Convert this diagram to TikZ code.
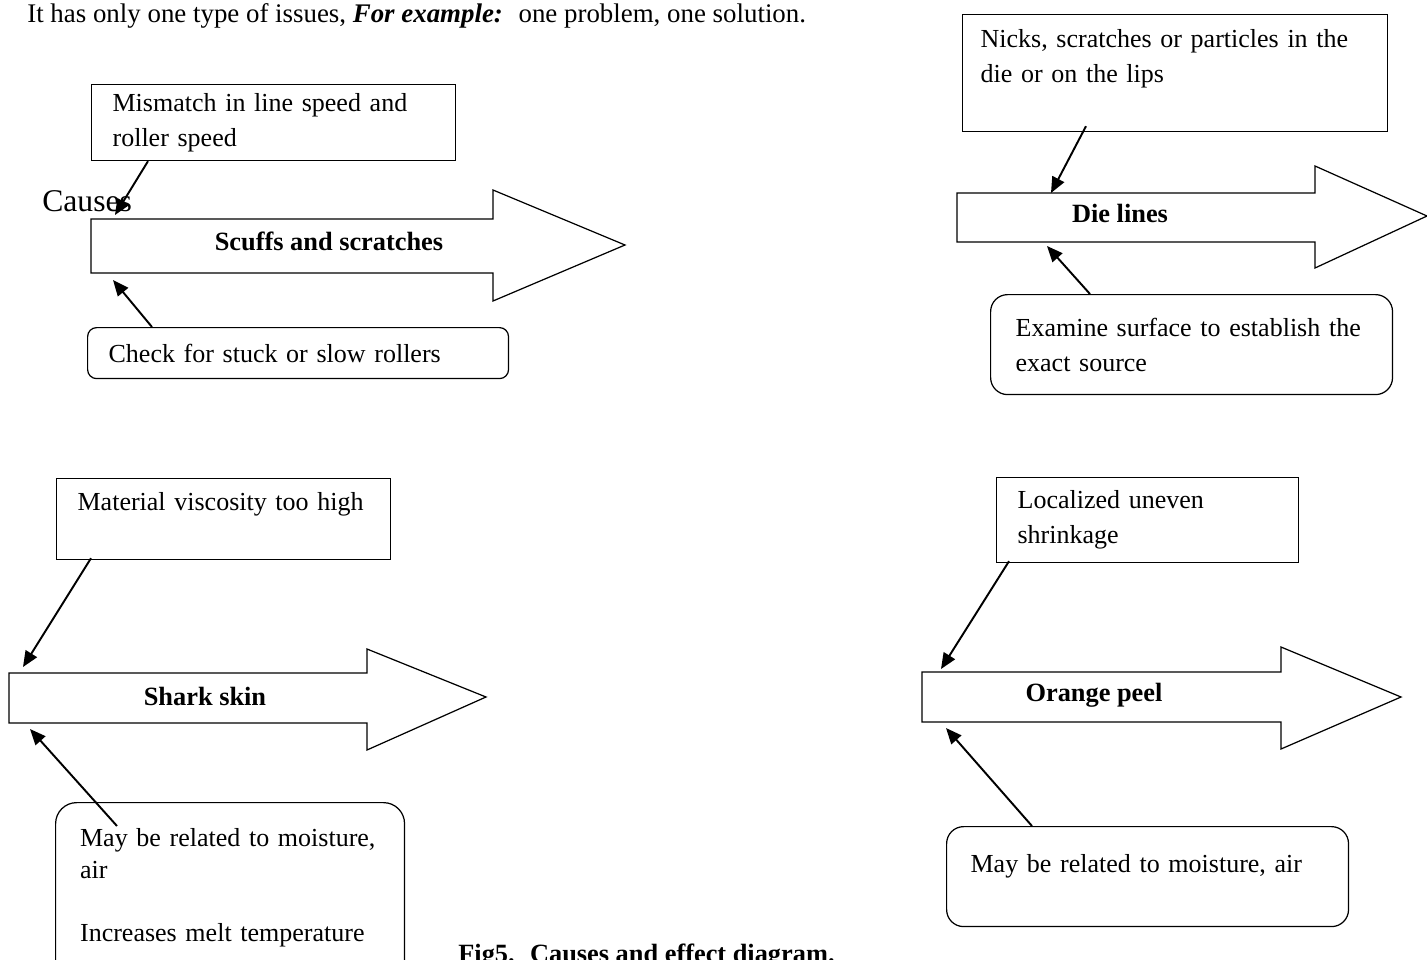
\documentclass[tikz,border=0pt]{standalone}
\usepackage{fontspec}
\setmainfont{Liberation Serif}
\usetikzlibrary{arrows.meta}

\begin{document}
\begin{tikzpicture}[x=0.02cm,y=-0.02cm,
        causebox/.style={draw,line width=0.7pt,anchor=north west,align=left,inner xsep=0.42cm,font=\fontsize{14.8}{19.8}\selectfont},
        fixbox/.style={causebox,rounded corners=0.34cm},
        effect/.style={draw,line width=0.7pt},
        effectlabel/.style={font=\fontsize{15}{18}\selectfont\bfseries},
        conn/.style={line width=1.1pt,-{Triangle[length=9pt,width=7.5pt]}}]
        \path[use as bounding box] (0,0) rectangle (1427,960);
        \clip (0,0) rectangle (1427,960);
        %Text
        \node[anchor=base west,inner sep=0,font=\fontsize{15.3}{18}\selectfont] (intro) at (27,22) {It has only one type of issues, \textbf{\textit{For example:}}~ one problem, one solution.};
        \node[anchor=base west,inner sep=0,font=\fontsize{15}{18}\selectfont\bfseries] (caption) at (458,962) {Fig5.~ Causes and effect diagram.};
        \node[anchor=west,inner sep=0,font=\fontsize{18}{20}\selectfont] (causes) at (42,201) {Causes};
        %Effects
        \draw[effect] (91,219) -- (493,219) -- (493,190) -- (625,245) -- (493,301) -- (493,273) -- (91,273) -- cycle;
        \draw[effect] (957,193) -- (1315,193) -- (1315,166) -- (1427,216) -- (1315,268) -- (1315,242) -- (957,242) -- cycle;
        \draw[effect] (9,673) -- (367,673) -- (367,649) -- (486,697) -- (367,750) -- (367,723) -- (9,723) -- cycle;
        \draw[effect] (922,672) -- (1281,672) -- (1281,647) -- (1401,697) -- (1281,749) -- (1281,722) -- (922,722) -- cycle;
        \node[effectlabel] (scuffs) at (329,241) {Scuffs and scratches};
        \node[effectlabel] (dielines) at (1120,213) {Die lines};
        \node[effectlabel] (sharkskin) at (205,696) {Shark skin};
        \node[effectlabel] (orangepeel) at (1094,695) {Orange peel};
        \coordinate (scuffs top) at (115,215);
        \coordinate (scuffs bottom) at (113,280);
        \coordinate (dielines top) at (1051,193);
        \coordinate (dielines bottom) at (1047,246);
        \coordinate (sharkskin top) at (23,667);
        \coordinate (sharkskin bottom) at (30,729);
        \coordinate (orangepeel top) at (941,669);
        \coordinate (orangepeel bottom) at (946,728);
        %Causes
        \node[causebox,text width=6.44cm,minimum height=1.52cm] (mismatch) at (91,84) {Mismatch in line speed and\\roller speed};
        \node[causebox,inner xsep=0.36cm,text width=7.78cm,minimum height=2.34cm] (nicks) at (962,14) {Nicks, scratches or particles in the\\die or on the lips\\~};
        \node[causebox,text width=5.84cm,minimum height=1.62cm] (viscosity) at (56,478) {Material viscosity too high\\~};
        \node[causebox,text width=5.2cm,minimum height=1.7cm] (shrinkage) at (996,477) {Localized uneven\\shrinkage};
        %Solutions
        \node[fixbox,rounded corners=0.18cm,text width=7.58cm,minimum height=1.02cm] (rollers) at (87,327) {Check for stuck or slow rollers};
        \node[fixbox,inner xsep=0.5cm,text width=7.04cm,minimum height=2cm] (examine) at (990,294) {Examine surface to establish the\\exact source};
        \node[fixbox,rounded corners=0.42cm,inner xsep=0.49cm,text width=6cm,minimum height=3.94cm,font=\fontsize{14.8}{18}\selectfont] (moisture) at (55,802) {May be related to moisture,\\air\\~\\Increases melt temperature\\~};
        \node[fixbox,inner xsep=0.48cm,text width=7.08cm,minimum height=2cm] (moisture2) at (946,826) {May be related to moisture, air\\[-5pt]~};
        %Connectors
        \draw[conn] ([xshift=1.14cm]mismatch.south west) -- (scuffs top);
        \draw[conn] ([xshift=1.3cm]rollers.north west) -- (scuffs bottom);
        \draw[conn] ([xshift=2.48cm,yshift=0.12cm]nicks.south west) -- (dielines top);
        \draw[conn] ([xshift=2cm]examine.north west) -- (dielines bottom);
        \draw[conn] ([xshift=0.7cm,yshift=0.04cm]viscosity.south west) -- (sharkskin top);
        \draw[conn] ([xshift=1.24cm,yshift=-0.48cm]moisture.north west) -- (sharkskin bottom);
        \draw[conn] ([xshift=0.26cm,yshift=0.04cm]shrinkage.south west) -- (orangepeel top);
        \draw[conn] ([xshift=1.72cm]moisture2.north west) -- (orangepeel bottom);
\end{tikzpicture}
\end{document}
